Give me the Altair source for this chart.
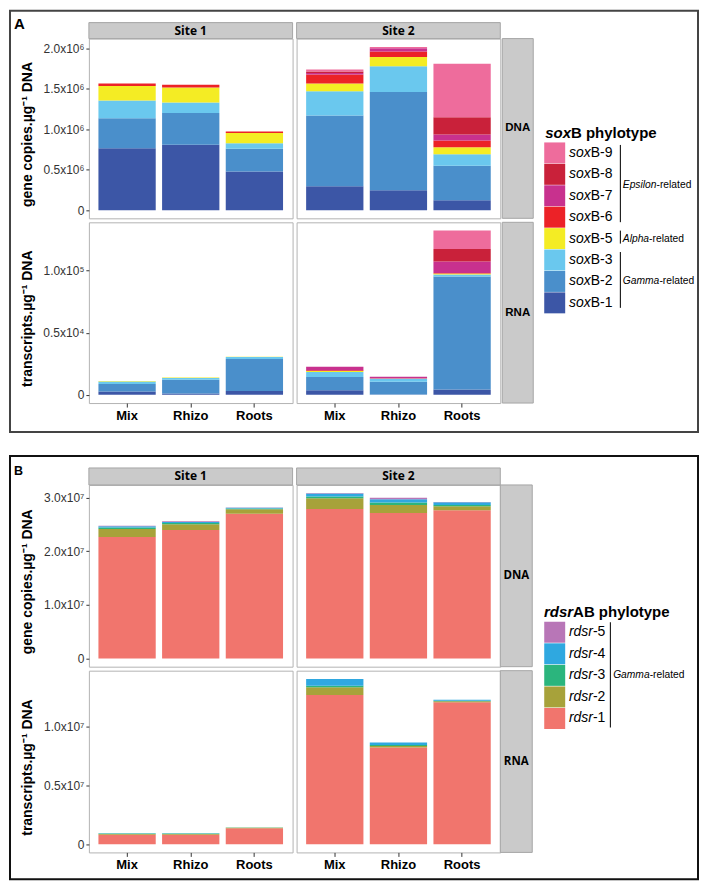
import altair as alt
import pandas as pd

FONT = "Liberation Sans"
HEAD_FONT = "Open Sans"

samples = ["Mix", "Rhizo", "Roots"]
sites = ["Site 1", "Site 2"]
rows_names = ["DNA", "RNA"]
panel_letters = ["A", "B"]
dna_title = "gene copies.µg⁻¹ DNA"
rna_title = "transcripts.µg⁻¹ DNA"

# ---------------- panel A : soxB ----------------
sox_types = ["soxB-1", "soxB-2", "soxB-3", "soxB-5", "soxB-6", "soxB-7", "soxB-8", "soxB-9"]
sox_colors = ["#3C56A6", "#4A8FCB", "#6AC8EE", "#F4EC24", "#EC2227", "#C8318E", "#C9213A", "#EE6C9C"]

# DNA, units of 10^6 gene copies per ug DNA; rows = Mix, Rhizo, Roots; columns = sox_types
sox_dna_site1 = [
    [0.765, 0.370, 0.220, 0.180, 0.030, 0.000, 0.000, 0.000],
    [0.810, 0.390, 0.130, 0.185, 0.035, 0.000, 0.000, 0.000],
    [0.478, 0.280, 0.070, 0.125, 0.020, 0.000, 0.000, 0.000],
]
sox_dna_site2 = [
    [0.296, 0.873, 0.300, 0.095, 0.111, 0.020, 0.017, 0.025],
    [0.247, 1.213, 0.318, 0.115, 0.067, 0.040, 0.000, 0.017],
    [0.123, 0.427, 0.140, 0.088, 0.082, 0.074, 0.214, 0.662],
]
# RNA, units of 10^5 transcripts per ug DNA
sox_rna_site1 = [
    [0.027, 0.060, 0.020, 0.005, 0.000, 0.000, 0.000, 0.000],
    [0.010, 0.111, 0.014, 0.005, 0.000, 0.000, 0.000, 0.000],
    [0.032, 0.256, 0.016, 0.003, 0.000, 0.000, 0.000, 0.000],
]
sox_rna_site2 = [
    [0.038, 0.105, 0.042, 0.008, 0.006, 0.028, 0.000, 0.000],
    [0.003, 0.102, 0.024, 0.003, 0.000, 0.013, 0.000, 0.000],
    [0.043, 0.909, 0.016, 0.010, 0.003, 0.092, 0.102, 0.148],
]
sox_dna_ticks = [0, 0.5, 1.0, 1.5, 2.0]
sox_dna_labels = ["0", "0.5x10⁶", "1.0x10⁶", "1.5x10⁶", "2.0x10⁶"]
sox_rna_ticks = [0, 0.5, 1.0]
sox_rna_labels = ["0", "0.5x10⁴", "1.0x10⁵"]
sox_dna_domain = [-0.10, 2.12]
sox_rna_domain = [-0.066, 1.389]

sox_title = ["sox", "B phylotype"]
sox_groups = ["Epsilon", "Alpha", "Gamma"]
sox_group_top = ["soxB-9", "soxB-5", "soxB-3"]
sox_group_bottom = ["soxB-6", "soxB-5", "soxB-1"]
group_suffix = "-related"

# ---------------- panel B : rdsrAB ----------------
rdsr_types = ["rdsr-1", "rdsr-2", "rdsr-3", "rdsr-4", "rdsr-5"]
rdsr_colors = ["#F1756D", "#A7A23A", "#2BB57D", "#2FA8E0", "#B876B7"]

# DNA, units of 10^7
rdsr_dna_site1 = [
    [2.270, 0.145, 0.030, 0.025, 0.010],
    [2.400, 0.105, 0.025, 0.020, 0.012],
    [2.700, 0.085, 0.015, 0.012, 0.005],
]
rdsr_dna_site2 = [
    [2.790, 0.200, 0.035, 0.055, 0.010],
    [2.716, 0.150, 0.045, 0.060, 0.030],
    [2.766, 0.075, 0.025, 0.050, 0.005],
]
# RNA, units of 10^7
rdsr_rna_site1 = [
    [0.079, 0.008, 0.003, 0.002, 0.000],
    [0.079, 0.008, 0.003, 0.002, 0.000],
    [0.136, 0.004, 0.001, 0.001, 0.000],
]
rdsr_rna_site2 = [
    [1.267, 0.065, 0.014, 0.057, 0.000],
    [0.821, 0.012, 0.009, 0.022, 0.000],
    [1.204, 0.009, 0.004, 0.010, 0.000],
]
rdsr_dna_ticks = [0, 1, 2, 3]
rdsr_dna_labels = ["0", "1.0x10⁷", "2.0x10⁷", "3.0x10⁷"]
rdsr_rna_ticks = [0, 0.5, 1.0]
rdsr_rna_labels = ["0", "0.5x10⁷", "1.0x10⁷"]
rdsr_dna_domain = [-0.154, 3.24]
rdsr_rna_domain = [-0.070, 1.473]

rdsr_title = ["rdsr", "AB phylotype"]
rdsr_groups = ["Gamma"]
rdsr_group_top = ["rdsr-5"]
rdsr_group_bottom = ["rdsr-1"]

# ---------------- helpers ----------------
ARIAL = {'E': 667, 'p': 556, 's': 500, 'i': 222, 'l': 222, 'o': 556, 'n': 556,
         'A': 667, 'h': 556, 'a': 556, 'G': 778, 'm': 833}


def tw(s, size):
    return sum(ARIAL.get(c, 556) for c in s) * size / 1000.0


def tick_expr(ticks, labels):
    expr = "''"
    for t, l in reversed(list(zip(ticks, labels))):
        expr = f"abs(datum.value - {t}) < 1e-9 ? '{l}' : ({expr})"
    return expr


def one(text):
    return pd.DataFrame({"t": [text]})


def vrect(x, x2, y, y2, **kw):
    return alt.Chart(one("")).mark_rect(**kw).encode(
        x=alt.value(x), x2=alt.value(x2), y=alt.value(y), y2=alt.value(y2))


def vtext(text, x, y, **kw):
    return alt.Chart(one(text)).mark_text(**kw).encode(
        x=alt.value(x), y=alt.value(y), text="t:N")


def spacer(w, h):
    return alt.Chart(one("")).mark_point(opacity=0).encode(
        x=alt.value(0), y=alt.value(0)).properties(
        width=w, height=h, view=alt.ViewBackground(stroke="transparent"))


def bar_frame(types, vals_by_sample):
    rows = []
    for s, vals in zip(samples, vals_by_sample):
        for i, (t, v) in enumerate(zip(types, vals)):
            rows.append({"sample": s, "phylotype": t, "idx": i, "value": v})
    return pd.DataFrame(rows)


def cell(types, colors, vals, w, h, ydom, ticks, labels, show_y, show_x, extras):
    df = bar_frame(types, vals)
    if show_y:
        yaxis = alt.Axis(values=ticks, labelExpr=tick_expr(ticks, labels), title=None,
                         domain=False, grid=False, tickSize=3, tickColor="#333333",
                         labelFont=FONT, labelFontSize=12, labelColor="#333333",
                         labelPadding=2)
    else:
        yaxis = None
    if show_x:
        xaxis = alt.Axis(title=None, domain=False, labelAngle=0, tickSize=4,
                         tickColor="#333333", labelFont=FONT, labelFontSize=13,
                         labelFontWeight="bold", labelColor="black", labelPadding=2)
    else:
        xaxis = None
    bars = alt.Chart(df).mark_bar().encode(
        x=alt.X("sample:N", scale=alt.Scale(domain=samples, paddingInner=0.1, paddingOuter=0.15),
                axis=xaxis),
        y=alt.Y("value:Q", stack="zero", scale=alt.Scale(domain=ydom, nice=False, zero=False),
                axis=yaxis),
        color=alt.Color("phylotype:N", scale=alt.Scale(domain=types, range=colors), legend=None),
        order=alt.Order("idx:Q"),
    )
    return alt.layer(bars, *extras).properties(width=w, height=h)


def header(text, w, hh):
    return [
        vrect(0, w, -hh, 0, fill="#CACACA", stroke="#A6A6A6", strokeWidth=1),
        vtext(text, w / 2, -hh / 2, font=HEAD_FONT, fontSize=12, fontWeight="bold",
              color="black", baseline="middle", align="center"),
    ]


def side_strip(text, x0, x1, h, font):
    return [
        vrect(x0, x1, 0, h, fill="#CACACA", stroke="#A6A6A6", strokeWidth=1),
        vtext(text, (x0 + x1) / 2, h / 2, font=font, fontSize=11.5, fontWeight="bold",
              color="black", baseline="middle", align="center"),
    ]


def ytitle(text, h):
    return [vtext(text, -60.5, h / 2 + 6, font=FONT, fontSize=14, fontWeight="bold",
                  angle=270, baseline="middle", align="center", color="black")]


def legend(types, colors, it_len, y0, step, title_parts, title_y, title_split,
           label_split, groups, g_top, g_bottom, rule_x, text_x, off_top, off_bot, height):
    order = list(reversed(types))
    n = len(order)
    df = pd.DataFrame({"phylotype": order, "row": list(range(n)),
                       "it": [t[:it_len] for t in order], "rest": [t[it_len:] for t in order]})
    yscale = alt.Scale(domain=[0, n - 1], range=[y0, y0 + step * (n - 1)])
    Y = alt.Y("row:Q", scale=yscale, axis=None)
    layers = []
    layers.append(alt.Chart(df).mark_square(size=441, opacity=1, strokeWidth=0).encode(
        x=alt.value(10.5), y=Y,
        color=alt.Color("phylotype:N", scale=alt.Scale(domain=types, range=colors), legend=None)))
    layers.append(alt.Chart(df).mark_text(align="right", baseline="middle", font=FONT,
                                          fontSize=14, fontStyle="italic", color="black").encode(
        x=alt.value(label_split), y=Y, text="it:N"))
    layers.append(alt.Chart(df).mark_text(align="left", baseline="middle", font=FONT,
                                          fontSize=14, color="black").encode(
        x=alt.value(label_split), y=Y, text="rest:N"))
    layers.append(vtext(title_parts[0], title_split, title_y, font=FONT, fontSize=15,
                        fontWeight="bold", fontStyle="italic", align="right",
                        baseline="alphabetic", color="black"))
    layers.append(vtext(title_parts[1], title_split, title_y, font=FONT, fontSize=15,
                        fontWeight="bold", align="left", baseline="alphabetic", color="black"))
    gdf = pd.DataFrame({"name": groups,
                        "r1": [order.index(t) for t in g_top],
                        "r2": [order.index(t) for t in g_bottom]})
    gdf["mid"] = (gdf["r1"] + gdf["r2"]) / 2.0
    layers.append(alt.Chart(gdf).mark_rule(color="#222222", strokeWidth=1.2,
                                           yOffset=off_top, y2Offset=off_bot).encode(
        x=alt.value(rule_x), y=alt.Y("r1:Q", scale=yscale, axis=None), y2="r2:Q"))
    gs = 10.3
    for i, name in enumerate(groups):
        sub = gdf.iloc[[i]]
        layers.append(alt.Chart(sub).mark_text(align="left", baseline="middle", font=FONT,
                                               fontSize=gs, fontStyle="italic",
                                               color="black").encode(
            x=alt.value(text_x), y=alt.Y("mid:Q", scale=yscale, axis=None), text="name:N"))
        layers.append(alt.Chart(sub.assign(suf=group_suffix)).mark_text(
            align="left", baseline="middle", font=FONT, fontSize=gs, color="black").encode(
            x=alt.value(text_x + tw(name, gs)), y=alt.Y("mid:Q", scale=yscale, axis=None),
            text="suf:N"))
    return alt.layer(*layers).properties(width=150, height=height,
                                         view=alt.ViewBackground(stroke="transparent"))


W = 204
GAP = 4
SP_COL = 36
LEG_W = 150


def panel_rows(letter, letter_size, types, colors, d1, d2, r1, r2, hd, hr, hh, ddom, rdom,
               dticks, dlabels, rticks, rlabels, box_color, box_top, box_bottom,
               strip_x0, strip_x1, strip_font, leg):
    grid_h = hd + GAP + hr
    box = [vrect(-79, 610, box_top, grid_h + box_bottom, fillOpacity=0,
                 stroke=box_color, strokeWidth=2),
           vtext(letter, -75, -10, font=FONT, fontSize=letter_size, fontWeight="bold",
                 align="left", baseline="alphabetic", color="black")]
    c11 = cell(types, colors, d1, W, hd, ddom, dticks, dlabels, True, False,
               box + ytitle(dna_title, hd) + header(sites[0], W, hh))
    c12 = cell(types, colors, d2, W, hd, ddom, dticks, dlabels, False, False,
               header(sites[1], W, hh) + side_strip(rows_names[0], strip_x0, strip_x1, hd, strip_font))
    c21 = cell(types, colors, r1, W, hr, rdom, rticks, rlabels, True, True,
               ytitle(rna_title, hr))
    c22 = cell(types, colors, r2, W, hr, rdom, rticks, rlabels, False, True,
               side_strip(rows_names[1], strip_x0, strip_x1, hr, strip_font))
    return [c11, c12, spacer(SP_COL, hd), leg,
            c21, c22, spacer(SP_COL, hr), spacer(LEG_W, hr)]


legA = legend(sox_types, sox_colors, 3, 114.5, 21.45, sox_title, 99.7, 26.8, 46.5,
              sox_groups, sox_group_top, sox_group_bottom, 76.3, 78.7, -8, 5, 180)
legB = legend(rdsr_types, rdsr_colors, 4, 147.5, 21.6, rdsr_title, 132.7, 28.9, 48.8,
              rdsr_groups, rdsr_group_top, rdsr_group_bottom, 66.3, 69, -10, 9, 182)

rowsA = panel_rows(panel_letters[0], 15, sox_types, sox_colors, sox_dna_site1, sox_dna_site2,
                   sox_rna_site1, sox_rna_site2, 180, 181, 16, sox_dna_domain, sox_rna_domain,
                   sox_dna_ticks, sox_dna_labels, sox_rna_ticks, sox_rna_labels,
                   "#444444", -28, 29, 206, 237, FONT, legA)
rowsB = panel_rows(panel_letters[1], 12.5, rdsr_types, rdsr_colors, rdsr_dna_site1, rdsr_dna_site2,
                   rdsr_rna_site1, rdsr_rna_site2, 182, 182, 17, rdsr_dna_domain, rdsr_rna_domain,
                   rdsr_dna_ticks, rdsr_dna_labels, rdsr_rna_ticks, rdsr_rna_labels,
                   "#111111", -29, 27, 204, 236, HEAD_FONT, legB)

gap_h = 82 - 2 * GAP
middle = [spacer(W, gap_h), spacer(W, gap_h), spacer(SP_COL, gap_h), spacer(LEG_W, gap_h)]

chart = alt.concat(*(rowsA + middle + rowsB), columns=4, spacing=GAP, bounds="flush").resolve_scale(
    color="independent").properties(padding=0).configure_view(stroke="#B3B3B3", strokeWidth=1)

chart.save("out.html", embed_options={"renderer": "svg", "actions": False})
